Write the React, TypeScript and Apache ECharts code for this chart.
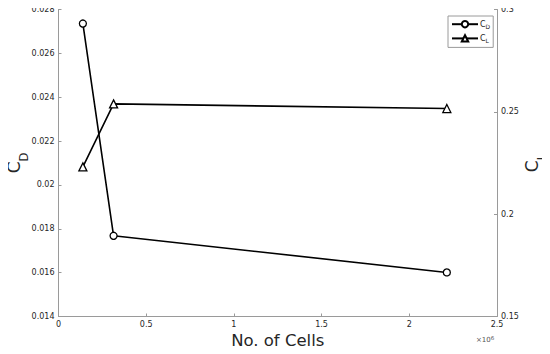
import React, { useEffect, useRef } from "react";
import * as echarts from "echarts";

const cells = [139000, 314000, 2214000];
const cdValues = [0.02736, 0.01768, 0.01601];
const clValues = [0.2231, 0.2539, 0.2516];
const xTicks = { min: 0, max: 2500000, interval: 500000 };
const cdTicks = { min: 0.014, max: 0.028, interval: 0.002 };
const clTicks = { min: 0.15, max: 0.3, interval: 0.05 };

const FONT = "DejaVu Sans";
const AXIS_GRAY = "#9a9a9a";
const TEXT = "#262626";

export default function App() {
  const ref = useRef<HTMLDivElement>(null);
  useEffect(() => {
    if (!ref.current) return;
    const chart = echarts.init(ref.current, null, { renderer: "svg" });
    const axisCommon = {
      axisLine: { show: true, lineStyle: { color: AXIS_GRAY, width: 1 } },
      axisTick: { show: true, inside: true, length: 3, lineStyle: { color: AXIS_GRAY } },
      splitLine: { show: false },
      axisLabel: { color: TEXT, fontFamily: FONT, fontSize: 8, margin: 4 },
      nameMoveOverlap: false,
    };
    const nameRich = () => ({
      fontFamily: FONT,
      color: TEXT,
      rich: {
        c: { fontFamily: FONT, color: TEXT, fontSize: 17, lineHeight: 17, verticalAlign: "top" },
        s: {
          fontFamily: FONT,
          color: TEXT,
          fontSize: 11.5,
          lineHeight: 12,
          verticalAlign: "top",
          padding: [12.8, 0, 0, 0],
        },
      },
    });
    chart.setOption({
      animation: false,
      grid: {
        left: 58.5,
        right: 53,
        top: 9.5,
        bottom: 37.5,
        containLabel: false,
        outerBoundsMode: "none",
      },
      legend: {
        show: true,
        left: 448,
        top: 16,
        orient: "vertical",
        backgroundColor: "#fff",
        borderColor: "#9a9a9a",
        borderWidth: 1,
        padding: [4, 3, 4, 3],
        itemGap: 5,
        itemWidth: 26,
        itemHeight: 8,
        formatter: (n: string) => (n === "CD" ? "{c|C}{s|D}" : "{c|C}{s|L}"),
        textStyle: {
          fontFamily: FONT,
          color: TEXT,
          padding: [0, 0, 0, -3],
          rich: {
            c: { fontFamily: FONT, color: TEXT, fontSize: 8 },
            s: { fontFamily: FONT, color: TEXT, fontSize: 6, padding: [4, 0, 0, 0] },
          },
        },
        data: ["CD", "CL"],
      },
      xAxis: {
        type: "value",
        ...xTicks,
        ...axisCommon,
        axisLabel: {
          ...axisCommon.axisLabel,
          formatter: (v: number) => String(+(v / 1e6).toFixed(2)),
        },
        name: "No. of Cells",
        nameLocation: "middle",
        nameGap: 15,
        nameTextStyle: { fontFamily: FONT, color: TEXT, fontSize: 16.5 },
      },
      yAxis: [
        {
          type: "value",
          position: "left",
          ...cdTicks,
          ...axisCommon,
          name: "{c|C}{s|D}",
          nameLocation: "middle",
          nameRotate: 90,
          nameGap: 36,
          nameTextStyle: nameRich(),
        },
        {
          type: "value",
          position: "right",
          ...clTicks,
          ...axisCommon,
          axisLabel: {
            ...axisCommon.axisLabel,
            formatter: (v: number) => String(+v.toFixed(2)),
          },
          name: "{c|C}{s|L}",
          nameLocation: "middle",
          nameRotate: 90,
          nameGap: 26,
          nameTextStyle: nameRich(),
        },
      ],
      graphic: [
        {
          type: "text",
          x: 476,
          y: 333,
          style: {
            text: "{a|×10}{b|6}",
            fill: "#555",
            rich: {
              a: { fontFamily: FONT, fontSize: 7, fill: "#555", padding: [3, 0, 0, 0] },
              b: { fontFamily: FONT, fontSize: 5.5, fill: "#555" },
            },
          },
        },
      ],
      series: [
        {
          name: "CD",
          type: "line",
          yAxisIndex: 0,
          data: cells.map((c, i) => [c, cdValues[i]]),
          symbol: "circle",
          symbolSize: 7,
          lineStyle: { color: "#000", width: 1.6 },
          itemStyle: { color: "#fff", borderColor: "#000", borderWidth: 1.3 },
        },
        {
          name: "CL",
          type: "line",
          yAxisIndex: 1,
          data: cells.map((c, i) => [c, clValues[i]]),
          symbol: "triangle",
          symbolSize: 8,
          lineStyle: { color: "#000", width: 1.6 },
          itemStyle: { color: "#fff", borderColor: "#000", borderWidth: 1.3 },
        },
      ],
    });
    return () => chart.dispose();
  }, []);
  return <div ref={ref} style={{ width: 550, height: 354, margin: -8 }} />;
}
